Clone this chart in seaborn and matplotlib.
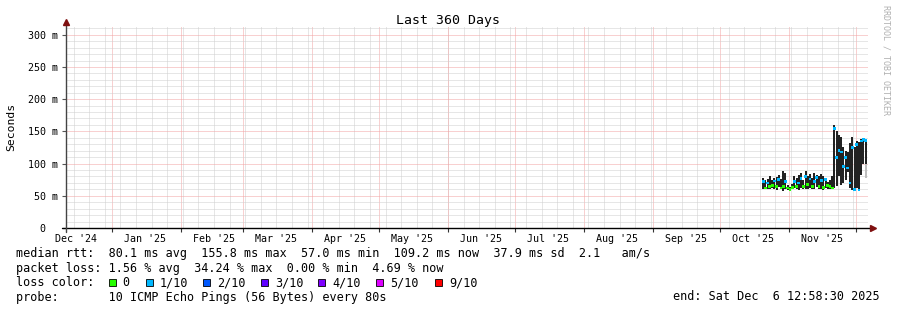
import numpy as np
import pandas as pd
import matplotlib
matplotlib.use("Agg")
import matplotlib.pyplot as plt
import matplotlib.dates as mdates
from matplotlib.ticker import MultipleLocator, FuncFormatter, NullFormatter
from matplotlib.patches import Rectangle
import seaborn as sns

# ---------------- data ----------------
range_start = "2024-12-11 12:58:30"
range_end = "2025-12-06 12:58:30"
first_day = "2025-10-20 12:00"

smoke_low = [60, 60, 61, 60, 62, 60, 59, 63, 60, 58, 60, 59, 58, 60, 62, 60,
             59, 62, 60, 61, 60, 62, 60, 61, 63, 60, 60, 59, 62, 60, 60, 60,
             62, 65, 80, 67, 70, 75, 87, 62, 59, 58, 62, 59, 82, 100, 100]
smoke_high = [78, 75, 76, 80, 74, 78, 79, 82, 76, 88, 85, 66, 64, 68, 80, 78,
              82, 85, 75, 88, 80, 84, 78, 85, 82, 80, 84, 80, 78, 72, 74, 80,
              160, 150, 145, 142, 125, 120, 118, 132, 142, 126, 135, 134, 138, 140, 138]
median_rtt = [72, 62, 70, 64, 66, 73, 64, 75, 62, 65, 72, 62, 60, 63, 72, 64,
              70, 77, 65, 80, 68, 76, 64, 72, 78, 65, 74, 63, 75, 66, 64, 62,
              155, 110, 120, 118, 95, 110, 93, 70, 125, 60, 130, 59, 135, 137, 136]
loss_level = [1, 0, 1, 0, 0, 1, 0, 1, 0, 0, 1, 0, 0, 0, 1, 0,
              1, 1, 0, 1, 0, 1, 0, 1, 1, 0, 1, 0, 1, 0, 0, 0,
              1, 1, 1, 1, 1, 1, 1, 1, 1, 1, 1, 1, 1, 1, 1]
light_smoke_day = ["2025-12-05 18:00"]
light_smoke_low = [78]
light_smoke_high = [120]

loss_labels = ["0", "1/10", "2/10", "3/10", "4/10", "5/10", "9/10"]
loss_colors = ["#26ff00", "#00b8ff", "#0059ff", "#5e00ff", "#7e00ff", "#dd00ff", "#ff0000"]

legend_line1 = "median rtt:  80.1 ms avg  155.8 ms max  57.0 ms min  109.2 ms now  37.9 ms sd  2.1   am/s"
legend_line2 = "packet loss: 1.56 % avg  34.24 % max  0.00 % min  4.69 % now"
legend_line3 = "loss color:"
legend_line4 = "probe:       10 ICMP Echo Pings (56 Bytes) every 80s"
end_text = "end: Sat Dec  6 12:58:30 2025"
title_text = "Last 360 Days"
ylabel_text = "Seconds"
watermark = "RRDTOOL / TOBI OETIKER"

# ---------------- figure ----------------
sns.set_theme(style="white")
plt.rcParams["font.family"] = ["DejaVu Sans Mono", "DejaVu Sans"]

W, H = 897, 310
fig = plt.figure(figsize=(W / 100, H / 100), dpi=100, facecolor="white")
ax = fig.add_axes([66 / W, 1 - 228 / H, (868 - 66) / W, (228 - 27) / H])
ax.set_facecolor("white")

dates = pd.date_range(first_day, periods=len(smoke_low), freq="D")
df = pd.DataFrame({
    "date": dates,
    "low": smoke_low,
    "high": smoke_high,
    "median": median_rtt,
    "loss": [loss_labels[i] for i in loss_level],
})

t0 = pd.Timestamp(range_start)
t1 = pd.Timestamp(range_end)
ax.set_xlim(t0, t1)
ax.set_ylim(0, 312)

# grid
grid_red = "#f2a3a3"
grid_gray = "#cfcfcf"
dot = (0, (1, 1))
ax.set_axisbelow(True)
weeks = mdates.WeekdayLocator(byweekday=mdates.SU).tick_values(t0.to_pydatetime(), t1.to_pydatetime())
ax.vlines(weeks, 0, 312, colors=grid_gray, linestyles=dot, linewidth=0.72, zorder=0.5)
ax.yaxis.set_major_locator(MultipleLocator(50))
ax.yaxis.set_minor_locator(MultipleLocator(10))
ax.grid(which="minor", axis="y", color=grid_gray, linestyle=dot, linewidth=0.72, zorder=0.6)
ax.grid(which="major", axis="both", color=grid_red, linestyle=dot, linewidth=0.72, zorder=0.7)

# smoke
ax.bar(df["date"], df["high"] - df["low"], bottom=df["low"], width=0.9,
       color="#222222", linewidth=0, zorder=2, antialiased=False)
ax.bar(pd.to_datetime(light_smoke_day), np.array(light_smoke_high) - np.array(light_smoke_low),
       bottom=light_smoke_low, width=0.8, color="#bdbdbd", linewidth=0, zorder=1.9,
       antialiased=False)

# median coloured by loss
sns.scatterplot(data=df, x="date", y="median", hue="loss",
                palette=dict(zip(loss_labels, loss_colors)), marker="s", s=4,
                linewidth=0, legend=False, ax=ax, zorder=3)
ax.set_xlabel("")
ax.set_ylabel("")

# ticks
ax.xaxis.set_major_locator(mdates.MonthLocator())
ax.xaxis.set_major_formatter(NullFormatter())
ax.xaxis.set_minor_locator(mdates.MonthLocator(bymonthday=16))
ax.xaxis.set_minor_formatter(mdates.DateFormatter("%b '%y"))
ax.yaxis.set_major_formatter(FuncFormatter(lambda v, p: "0  " if v == 0 else f"{int(v)} m"))
ax.yaxis.set_minor_formatter(NullFormatter())
ax.tick_params(axis="x", which="major", length=3, width=0.8, color="#333333", direction="out", bottom=True)
ax.tick_params(axis="x", which="minor", length=0, labelsize=7.2, pad=4.5, labelcolor="black", bottom=True)
ax.tick_params(axis="y", which="major", length=3, width=0.8, color="#555555", labelsize=7.2,
               pad=2.5, labelcolor="black", left=True)
ax.tick_params(axis="y", which="minor", length=0)

for s in ax.spines.values():
    s.set_visible(False)

# axes lines with arrows
ax.plot([-0.005, 1.004], [0, 0], transform=ax.transAxes, color="black", lw=1.0, clip_on=False, zorder=5)
ax.plot([0, 0], [-0.02, 1.015], transform=ax.transAxes, color="#444444", lw=1.0, clip_on=False, zorder=5)
ax.plot([1.006], [0], transform=ax.transAxes, marker=">", color="#7f1010", ms=4, clip_on=False, zorder=6)
ax.plot([0], [1.025], transform=ax.transAxes, marker="^", color="#7f1010", ms=4, clip_on=False, zorder=6)

# texts
def fx(x):
    return x / W

def fy(y):
    return 1 - y / H

fig.text(fx(448), fy(24), title_text, ha="center", va="baseline", fontsize=9.5, color="black")
fig.text(fx(11), fy(127), ylabel_text, ha="center", va="center", rotation=90, fontsize=8.2, color="black")
fig.text(fx(886), fy(60), watermark, ha="center", va="center", rotation=270, fontsize=6, color="#b0b0b0")

lf = 8.5
fig.text(fx(16), fy(257.5), legend_line1, ha="left", va="baseline", fontsize=lf, color="black")
fig.text(fx(16), fy(271.8), legend_line2, ha="left", va="baseline", fontsize=lf, color="black")
fig.text(fx(16), fy(286), legend_line3, ha="left", va="baseline", fontsize=lf, color="black")
fig.text(fx(16), fy(300.5), legend_line4, ha="left", va="baseline", fontsize=lf, color="black")
fig.text(fx(880), fy(300.5), end_text, ha="right", va="baseline", fontsize=lf, color="black")

box_x = [108.7, 146, 203, 261, 318, 376, 435]
for bx, lab, col in zip(box_x, loss_labels, loss_colors):
    fig.patches.append(Rectangle((fx(bx), fy(285.5)), 7 / W, 7 / H, transform=fig.transFigure,
                                 facecolor=col, edgecolor="black", linewidth=0.6))
    fig.text(fx(bx + 14), fy(286), lab, ha="left", va="baseline", fontsize=lf, color="black")

fig.savefig("out.png", dpi=100, facecolor="white")
